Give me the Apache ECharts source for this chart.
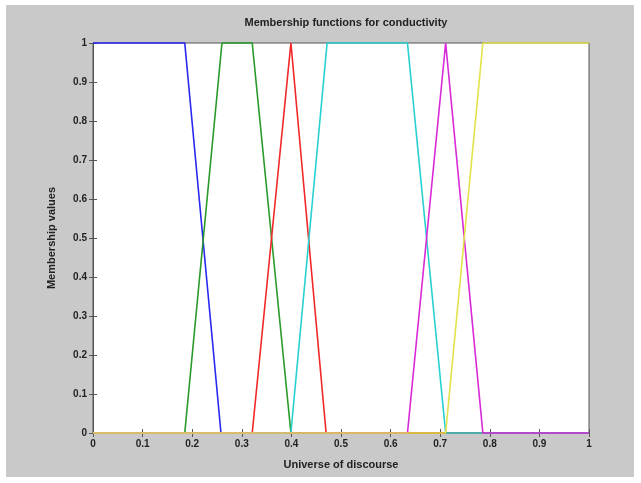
<!DOCTYPE html>
<html>
<head>
<meta charset="utf-8">
<script src="https://cdn.jsdelivr.net/npm/echarts@6/dist/echarts.min.js"></script>
<style>html,body{margin:0;padding:0;background:#ffffff;}#c{width:641px;height:483px;}</style>
</head>
<body>
<div id="c"></div>
<script>
const titleText = 'Membership functions for conductivity';
const xName = 'Universe of discourse';
const yName = 'Membership values';
const seriesNames = ['mf1', 'mf2', 'mf3', 'mf4', 'mf5', 'mf6'];
const seriesColors = ['#2828f0', '#2a9a2a', '#f02828', '#28d0d0', '#d828d8', '#e2e24a'];
// breakpoints (x) and membership values (y) per function
const mf1X = [0, 0.185, 0.258, 1];           const mf1Y = [1, 1, 0, 0];
const mf2X = [0, 0.185, 0.260, 0.321, 0.399, 1]; const mf2Y = [0, 0, 1, 1, 0, 0];
const mf3X = [0, 0.321, 0.399, 0.470, 1];    const mf3Y = [0, 0, 1, 0, 0];
const mf4X = [0, 0.399, 0.472, 0.634, 0.711, 1]; const mf4Y = [0, 0, 1, 1, 0, 0];
const mf5X = [0, 0.634, 0.711, 0.786, 1];    const mf5Y = [0, 0, 1, 0, 0];
const mf6X = [0, 0.711, 0.786, 1];           const mf6Y = [0, 0, 1, 1];
const xTicks = [0, 0.1, 0.2, 0.3, 0.4, 0.5, 0.6, 0.7, 0.8, 0.9, 1];
const yTicks = [0, 0.1, 0.2, 0.3, 0.4, 0.5, 0.6, 0.7, 0.8, 0.9, 1];

const allX = [mf1X, mf2X, mf3X, mf4X, mf5X, mf6X];
const allY = [mf1Y, mf2Y, mf3Y, mf4Y, mf5Y, mf6Y];

const chart = echarts.init(document.getElementById('c'));
const font = 'Liberation Sans, Arial, sans-serif';
const axisCol = '#555';
const labelStyle = {color: '#222', fontSize: 10, fontWeight: 'bold', fontFamily: font};
function baseAxis(extra) {
  return Object.assign({
    type: 'value', min: 0, max: 1, interval: 0.1,
    axisLine: {show: true, lineStyle: {color: axisCol, width: 1}},
    axisTick: {show: true, inside: true, length: 4, lineStyle: {color: axisCol}},
    splitLine: {show: false},
  }, extra);
}
const fmt = v => String(Math.round(v * 10) / 10);
chart.setOption({
  backgroundColor: '#ffffff',
  animation: false,
  graphic: [{type: 'rect', z: -10, silent: true,
    shape: {x: 6, y: 5, width: 628, height: 472},
    style: {fill: '#c9c9c9'}}],
  title: {
    text: titleText, left: 341, top: 12, textAlign: 'center',
    textStyle: {color: '#222', fontSize: 11, fontWeight: 'bold', fontFamily: font}
  },
  grid: {left: 93, top: 43, width: 496, height: 390, show: true,
    backgroundColor: '#ffffff', borderColor: axisCol, borderWidth: 1},
  xAxis: [
    baseAxis({position: 'bottom', name: xName, nameLocation: 'middle', nameGap: 26,
      nameTextStyle: {color: '#222', fontSize: 11, fontWeight: 'bold', fontFamily: font},
      axisLabel: Object.assign({margin: 6, formatter: fmt}, labelStyle)}),
    baseAxis({position: 'top', axisLabel: {show: false}})
  ],
  yAxis: [
    baseAxis({position: 'left', name: yName, nameLocation: 'middle', nameGap: 36,
      nameTextStyle: {color: '#222', fontSize: 11, fontWeight: 'bold', fontFamily: font},
      axisLabel: Object.assign({margin: 6, formatter: fmt}, labelStyle)}),
    baseAxis({position: 'right', axisLabel: {show: false}})
  ],
  series: seriesNames.map((n, i) => ({
    name: n, type: 'line', xAxisIndex: 0, yAxisIndex: 0,
    data: allX[i].map((x, j) => [x, allY[i][j]]),
    showSymbol: false, symbol: 'none', z: 2 + i,
    lineStyle: {color: seriesColors[i], width: 1.6},
    clip: false
  }))
});
</script>
</body>
</html>
